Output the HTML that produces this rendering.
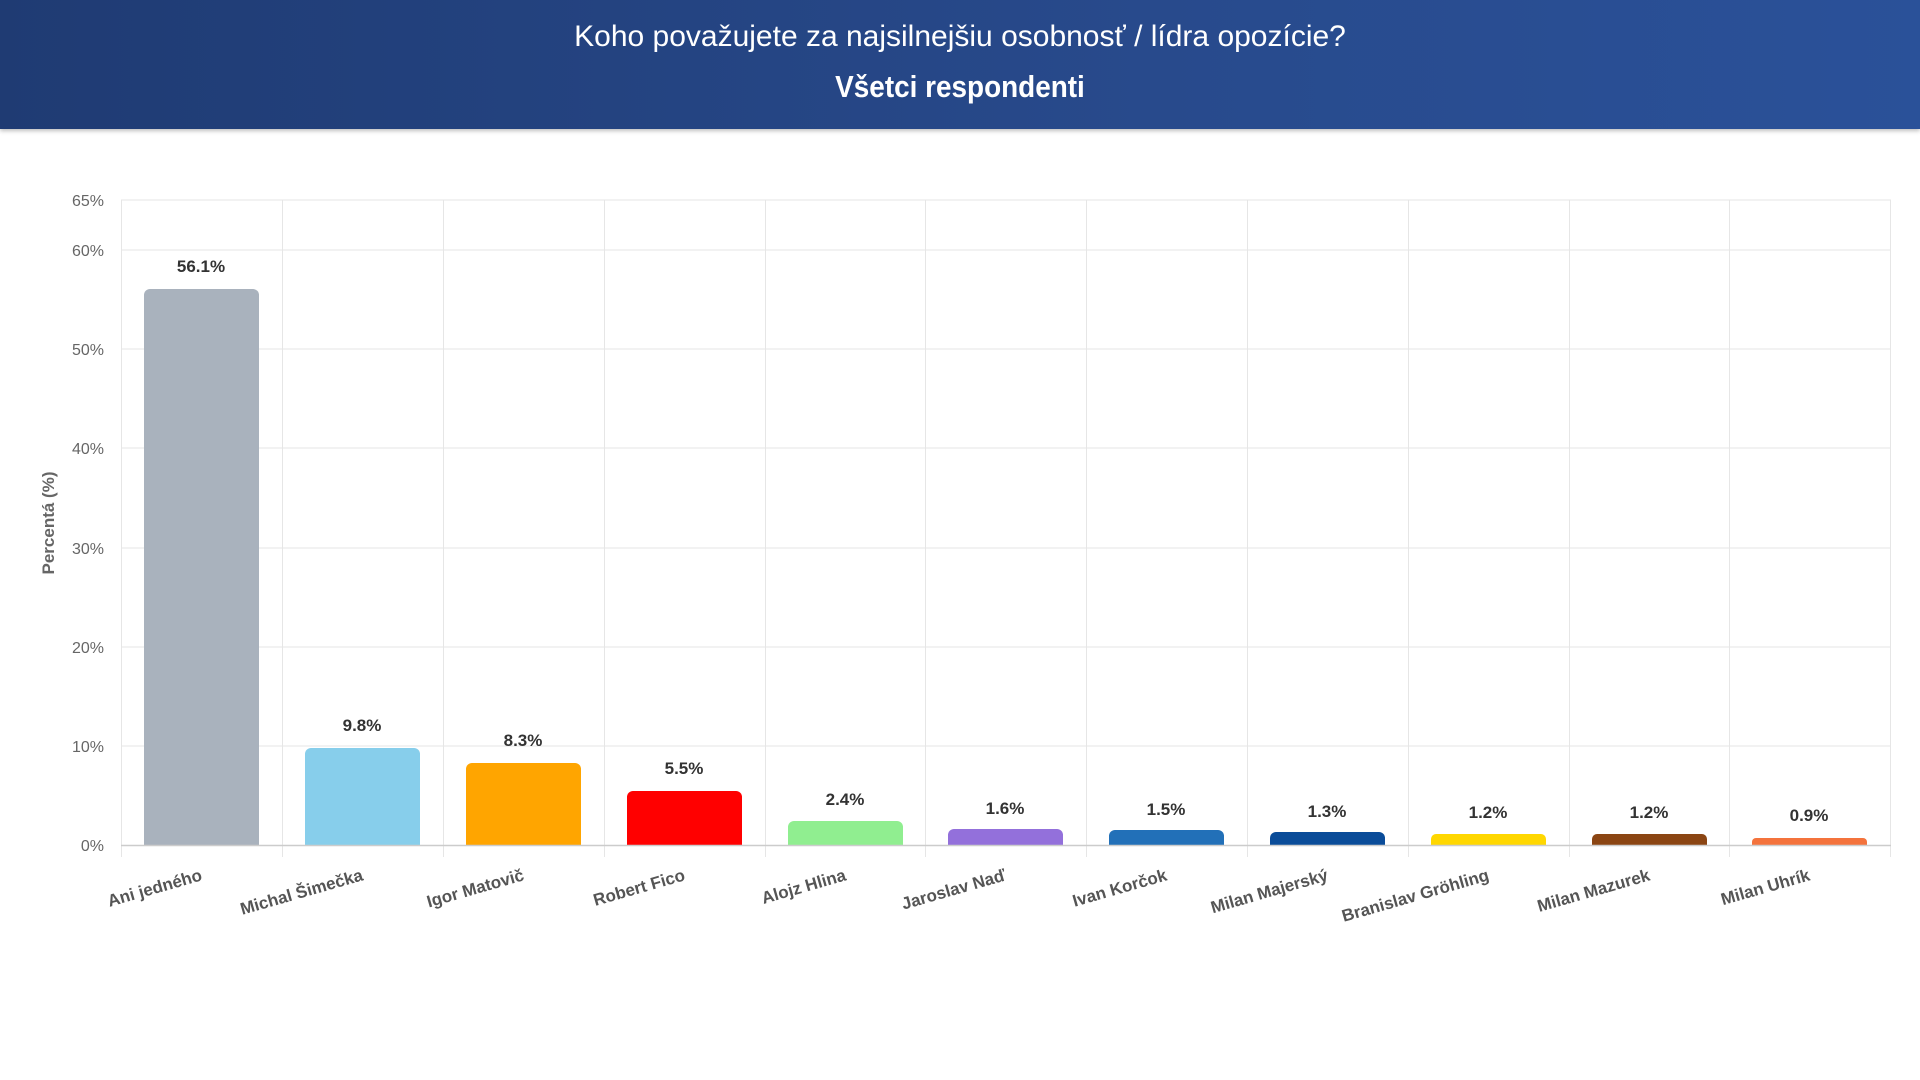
<!DOCTYPE html>
<html><head><meta charset="utf-8"><style>
html,body{margin:0;padding:0;width:1920px;height:1080px;overflow:hidden;background:#fff;font-family:"Liberation Sans",sans-serif}
.hdr{position:absolute;left:0;top:0;width:1920px;height:129px;background:linear-gradient(90deg,#1f3b73 0%,#284a8c 60%,#2a5199 100%);box-shadow:0 2px 4px rgba(0,0,0,.25);color:#fff;text-align:center}
.t1{position:absolute;top:20px;width:100%;font-size:30px}
.t2{position:absolute;top:69px;width:100%;font-size:31px;font-weight:bold;transform:scaleX(.9)}
svg{position:absolute;left:0;top:0}
</style></head><body>
<div class="hdr"><div class="t1">Koho považujete za najsilnejšiu osobnosť / lídra opozície?</div><div class="t2">Všetci respondenti</div></div>
<svg width="1920" height="1080" font-family="Liberation Sans, sans-serif">
<g stroke="#e6e6e6" stroke-width="1">
<line x1="121" y1="200" x2="1891" y2="200"/><line x1="121" y1="250" x2="1891" y2="250"/>
<line x1="121" y1="349" x2="1891" y2="349"/><line x1="121" y1="448" x2="1891" y2="448"/>
<line x1="121" y1="548" x2="1891" y2="548"/><line x1="121" y1="647" x2="1891" y2="647"/>
<line x1="121" y1="746" x2="1891" y2="746"/>
<line x1="121.5" y1="200" x2="121.5" y2="857"/><line x1="282.5" y1="200" x2="282.5" y2="857"/>
<line x1="443.5" y1="200" x2="443.5" y2="857"/><line x1="604.5" y1="200" x2="604.5" y2="857"/>
<line x1="765.5" y1="200" x2="765.5" y2="857"/><line x1="925.5" y1="200" x2="925.5" y2="857"/>
<line x1="1086.5" y1="200" x2="1086.5" y2="857"/><line x1="1247.5" y1="200" x2="1247.5" y2="857"/>
<line x1="1408.5" y1="200" x2="1408.5" y2="857"/><line x1="1569.5" y1="200" x2="1569.5" y2="857"/>
<line x1="1729.5" y1="200" x2="1729.5" y2="857"/><line x1="1890.5" y1="200" x2="1890.5" y2="857"/>
</g>
<g font-size="16" fill="#666" text-anchor="end">
<text x="104" y="206">65%</text><text x="104" y="256">60%</text><text x="104" y="355">50%</text>
<text x="104" y="454">40%</text><text x="104" y="554">30%</text><text x="104" y="653">20%</text>
<text x="104" y="752">10%</text><text x="104" y="851">0%</text>
</g>
<text transform="translate(54,523) rotate(-90)" text-anchor="middle" font-size="17" font-weight="bold" fill="#666">Percentá (%)</text>
<g>
<path d="M144,845V295a6,6 0 0 1 6,-6h103a6,6 0 0 1 6,6V845z" fill="#a9b2bd"/>
<path d="M305,845V754a6,6 0 0 1 6,-6h103a6,6 0 0 1 6,6V845z" fill="#87ceeb"/>
<path d="M466,845V769a6,6 0 0 1 6,-6h103a6,6 0 0 1 6,6V845z" fill="#ffa500"/>
<path d="M627,845V797a6,6 0 0 1 6,-6h103a6,6 0 0 1 6,6V845z" fill="#ff0000"/>
<path d="M788,845V827a6,6 0 0 1 6,-6h103a6,6 0 0 1 6,6V845z" fill="#90ee90"/>
<path d="M948,845V835a6,6 0 0 1 6,-6h103a6,6 0 0 1 6,6V845z" fill="#9370db"/>
<path d="M1109,845V836a6,6 0 0 1 6,-6h103a6,6 0 0 1 6,6V845z" fill="#2270b8"/>
<path d="M1270,845V838a6,6 0 0 1 6,-6h103a6,6 0 0 1 6,6V845z" fill="#0a4c99"/>
<path d="M1431,845V839a5,5 0 0 1 5,-5h105a5,5 0 0 1 5,5V845z" fill="#ffd700"/>
<path d="M1592,845V839a5,5 0 0 1 5,-5h105a5,5 0 0 1 5,5V845z" fill="#8b4513"/>
<path d="M1752,845V842a4,4 0 0 1 4,-4h107a4,4 0 0 1 4,4V845z" fill="#f4733c"/>
</g>
<line x1="121" y1="845.5" x2="1891" y2="845.5" stroke="#ccc" stroke-width="1.5"/>
<g font-size="17" font-weight="bold" fill="#333" text-anchor="middle">
<text x="201" y="272">56.1%</text><text x="362" y="731">9.8%</text><text x="523" y="746">8.3%</text>
<text x="684" y="774">5.5%</text><text x="845" y="805">2.4%</text><text x="1005" y="814">1.6%</text>
<text x="1166" y="815">1.5%</text><text x="1327" y="817">1.3%</text><text x="1488" y="818">1.2%</text>
<text x="1649" y="818">1.2%</text><text x="1809" y="821">0.9%</text>
</g>
<g font-size="17" font-weight="bold" fill="#555" text-anchor="end">
<text transform="translate(203,880) rotate(-16)">Ani jedného</text>
<text transform="translate(364,880) rotate(-16)">Michal Šimečka</text>
<text transform="translate(525,880) rotate(-16)">Igor Matovič</text>
<text transform="translate(686,880) rotate(-16)">Robert Fico</text>
<text transform="translate(847,880) rotate(-16)">Alojz Hlina</text>
<text transform="translate(1007,880) rotate(-16)">Jaroslav Naď</text>
<text transform="translate(1168,880) rotate(-16)">Ivan Korčok</text>
<text transform="translate(1329,880) rotate(-16)">Milan Majerský</text>
<text transform="translate(1490,880) rotate(-16)">Branislav Gröhling</text>
<text transform="translate(1651,880) rotate(-16)">Milan Mazurek</text>
<text transform="translate(1811,880) rotate(-16)">Milan Uhrík</text>
</g>
</svg>
</body></html>
